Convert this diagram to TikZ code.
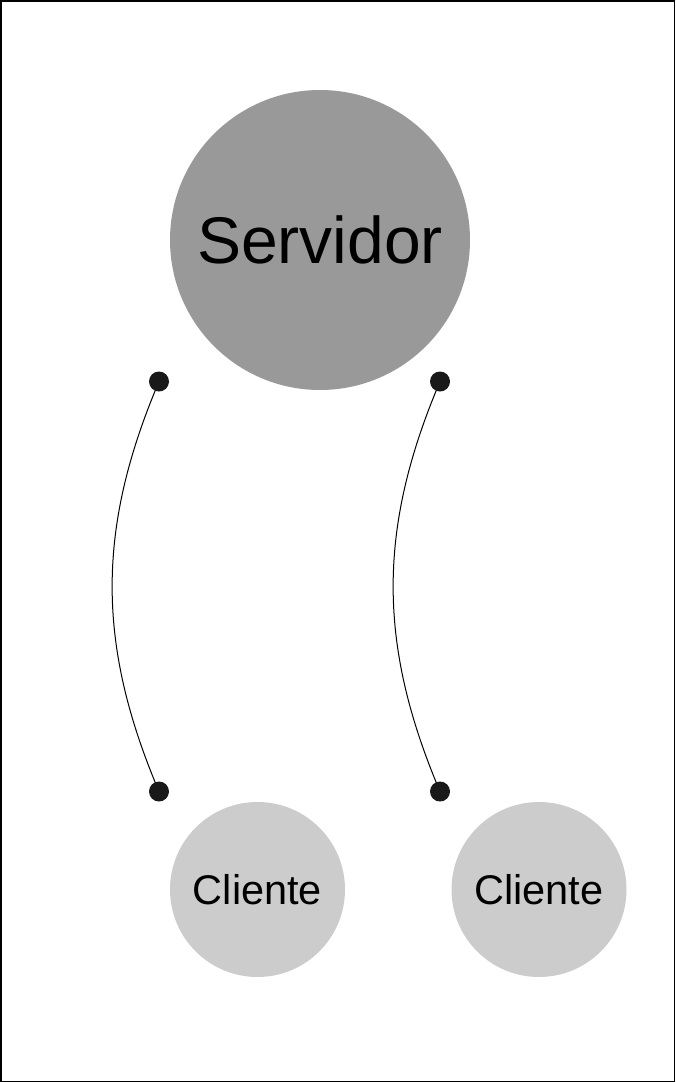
\documentclass[tikz,border=0pt]{standalone}
\usepackage{fontspec}
\setmainfont{Liberation Sans}
\begin{document}
\begin{tikzpicture}[x=1pt,y=-1pt,
  server/.style={circle,fill=black!40,minimum size=300pt,inner sep=0pt,font=\fontsize{66}{79}\selectfont},
  client/.style={circle,fill=black!20,minimum size=175pt,inner sep=0pt,font=\fontsize{41.5}{50}\selectfont},
  dot/.style={circle,fill=black!90,minimum size=20pt,inner sep=0pt},
  link/.style={draw=black,line width=1pt}]
\useasboundingbox (0,0) rectangle (675,1082);
\draw[line width=1.5pt] (0.75,0.75) rectangle (674.25,1081.25);
\node[server] (srv) at (320,240) {Servidor};
\node[client] (c1) at (257.5,889.5) {Cliente};
\node[client] (c2) at (539,889.5) {Cliente};
\coordinate (a1) at (159,381.5);
\coordinate (b1) at (159,791.5);
\coordinate (a2) at (440,381.5);
\coordinate (b2) at (440,791.5);
\draw[link] (a1) to[bend right=23] (b1);
\draw[link] (a2) to[bend right=23] (b2);
\node[dot] (da1) at (a1) {};
\node[dot] (db1) at (b1) {};
\node[dot] (da2) at (a2) {};
\node[dot] (db2) at (b2) {};
\end{tikzpicture}
\end{document}
